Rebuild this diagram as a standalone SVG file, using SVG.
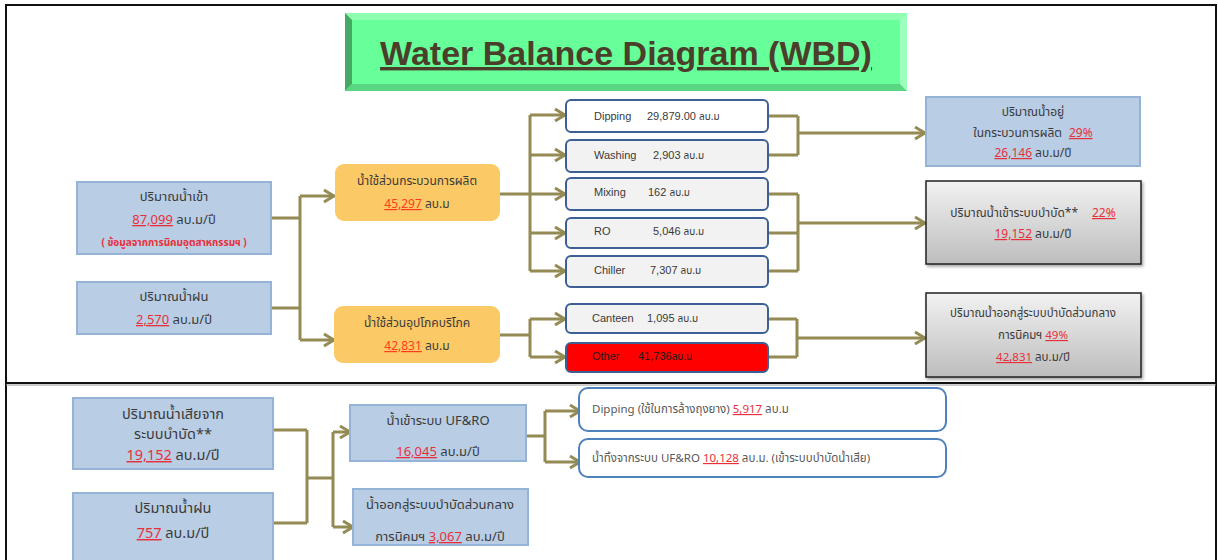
<svg xmlns="http://www.w3.org/2000/svg" width="1218" height="560" viewBox="0 0 1218 560">
  <style>
    text { font-family: "Noto Sans Thai", Tahoma, "Liberation Sans", "Noto Sans", sans-serif; fill: #3a3a3a; }
    .en { font-family: "Liberation Sans", Arial, sans-serif; }
    .th { font-family: "Noto Sans Thai", Tahoma, sans-serif; }
    .num { fill: #e8303a; text-decoration: underline; }
    .blue { fill: #b9cde5; stroke: #95b3d7; stroke-width: 2; }
    .orange { fill: #fcc967; }
    .proc { fill: #f2f2f2; stroke: #3c6096; stroke-width: 2; }
    .gray { fill: url(#grayGrad); stroke: #222; stroke-width: 1.5; filter: url(#shadow); }
    .pill { fill: #ffffff; stroke: #4f81bd; stroke-width: 2; }
    .wire { fill: none; stroke: #948a54; stroke-width: 3; }
    .arrow { fill: none; stroke: #948a54; stroke-width: 3; marker-end: url(#chev); }
  </style>
  <defs>
    <marker id="chev" markerUnits="userSpaceOnUse" viewBox="0 0 14 16" markerWidth="14" markerHeight="16" refX="12" refY="8" orient="auto">
      <path d="M2,2 L12,8 L2,14" fill="none" stroke="#948a54" stroke-width="3"/>
    </marker>
    <linearGradient id="grayGrad" x1="0" y1="0" x2="0" y2="1">
      <stop offset="0" stop-color="#f2f2f2"/>
      <stop offset="1" stop-color="#bdbdbd"/>
    </linearGradient>
    <filter id="shadow" x="-5%" y="-5%" width="115%" height="120%">
      <feDropShadow dx="1.5" dy="2" stdDeviation="1.5" flood-color="#000" flood-opacity="0.35"/>
    </filter>
  </defs>

  <rect width="1218" height="560" fill="#ffffff"/>

  <!-- page frame and section divider -->
  <g id="frame">
    <path d="M6,560 V5 H1216 V560" fill="none" stroke="#111" stroke-width="2"/>
    <line x1="6" y1="383" x2="1216" y2="383" stroke="#111" stroke-width="2"/>
    <line x1="6" y1="385" x2="1216" y2="385" stroke="#9a9a9a" stroke-width="1"/>
  </g>

  <!-- bevelled title plate -->
  <g id="title">
    <rect x="345" y="13" width="562" height="78" fill="#66ff99"/>
    <polygon points="345,13 907,13 900,20 352,20" fill="#8effb1"/>
    <polygon points="345,13 352,20 352,84 345,91" fill="#45a865"/>
    <polygon points="345,91 352,84 900,84 907,91" fill="#58d682"/>
    <polygon points="907,13 907,91 900,84 900,20" fill="#9dffbd"/>
    <text x="626" y="65" text-anchor="middle" class="en" font-size="34" font-weight="bold" style="fill:#4b3f2b" text-decoration="underline">Water Balance Diagram (WBD)</text>
  </g>

  <!-- connectors -->
  <g id="connectors">
    <path class="wire" d="M271,218 H300 M271,308 H300 M300,196 V340"/>
    <path class="arrow" d="M300,196 H334"/>
    <path class="arrow" d="M300,340 H334"/>

    <path class="wire" d="M500,194 H530 M530,115 V271"/>
    <path class="arrow" d="M530,115 H565"/>
    <path class="arrow" d="M530,155 H565"/>
    <path class="arrow" d="M530,194 H565"/>
    <path class="arrow" d="M530,233 H565"/>
    <path class="arrow" d="M530,271 H565"/>

    <path class="wire" d="M500,335 H530 M530,319 V357"/>
    <path class="arrow" d="M530,319 H565"/>
    <path class="arrow" d="M530,357 H565"/>

    <path class="wire" d="M768,116 H798 M768,155 H798 M798,116 V155"/>
    <path class="arrow" d="M798,133 H925"/>
    <path class="wire" d="M768,194 H798 M768,233 H798 M768,271 H798 M798,194 V271"/>
    <path class="arrow" d="M798,223 H925"/>
    <path class="wire" d="M768,319 H797 M768,357 H797 M797,319 V357"/>
    <path class="arrow" d="M797,338 H925"/>

    <path class="wire" d="M273,430 H307 M273,523 H307 M307,430 V523 M307,478 H333 M333,432 V527"/>
    <path class="arrow" d="M333,432 H350"/>
    <path class="arrow" d="M333,527 H353"/>

    <path class="wire" d="M526,436 H545 M545,411 V462"/>
    <path class="arrow" d="M545,411 H580"/>
    <path class="arrow" d="M545,462 H580"/>
  </g>

  <!-- inputs -->
  <g id="inflow">
    <rect class="blue" x="77" y="182" width="194" height="72"/>
    <text x="174" y="201" text-anchor="middle" font-size="13">ปริมาณน้ำเข้า</text>
    <text x="174" y="224" text-anchor="middle" font-size="13"><tspan class="num">87,099</tspan> ลบ.ม/ปี</text>
    <text x="174" y="246" text-anchor="middle" font-size="10" font-weight="bold" style="fill:#e8303a">( ข้อมูลจากการนิคมอุตสาหกรรมฯ )</text>
  </g>
  <g id="rain">
    <rect class="blue" x="77" y="282" width="194" height="52"/>
    <text x="174" y="301" text-anchor="middle" font-size="13">ปริมาณน้ำฝน</text>
    <text x="174" y="324" text-anchor="middle" font-size="13"><tspan class="num">2,570</tspan> ลบ.ม/ปี</text>
  </g>

  <!-- usage split -->
  <g id="process-use">
    <rect class="orange" x="335" y="164" width="165" height="57" rx="9"/>
    <text x="417" y="185" text-anchor="middle" font-size="12">น้ำใช้ส่วนกระบวนการผลิต</text>
    <text x="417" y="208" text-anchor="middle" font-size="12"><tspan class="num" style="fill:#ff3b1f">45,297</tspan> ลบ.ม</text>
  </g>
  <g id="domestic-use">
    <rect class="orange" x="334" y="306" width="166" height="57" rx="9"/>
    <text x="417" y="327" text-anchor="middle" font-size="12">น้ำใช้ส่วนอุปโภคบริโภค</text>
    <text x="417" y="350" text-anchor="middle" font-size="12"><tspan class="num" style="fill:#ff3b1f">42,831</tspan> ลบ.ม</text>
  </g>

  <!-- process consumers -->
  <g id="dipping">
    <rect class="proc" x="566" y="100" width="202" height="32" rx="5" style="fill:#ffffff"/>
    <text x="594" y="120" class="en" font-size="11">Dipping</text>
    <text x="647" y="120" class="en" font-size="11">29,879.00 <tspan class="th" font-size="10">ลบ.ม</tspan></text>
  </g>
  <g id="washing">
    <rect class="proc" x="566" y="140" width="202" height="32" rx="5"/>
    <text x="594" y="159" class="en" font-size="11">Washing</text>
    <text x="653" y="159" class="en" font-size="11">2,903 <tspan class="th" font-size="10">ลบ.ม</tspan></text>
  </g>
  <g id="mixing">
    <rect class="proc" x="566" y="178" width="202" height="32" rx="5"/>
    <text x="594" y="196" class="en" font-size="11">Mixing</text>
    <text x="648" y="196" class="en" font-size="11">162 <tspan class="th" font-size="10">ลบ.ม</tspan></text>
  </g>
  <g id="ro">
    <rect class="proc" x="566" y="218" width="202" height="30" rx="5"/>
    <text x="594" y="235" class="en" font-size="11">RO</text>
    <text x="653" y="235" class="en" font-size="11">5,046 <tspan class="th" font-size="10">ลบ.ม</tspan></text>
  </g>
  <g id="chiller">
    <rect class="proc" x="566" y="256" width="202" height="31" rx="5"/>
    <text x="594" y="274" class="en" font-size="11">Chiller</text>
    <text x="650" y="274" class="en" font-size="11">7,307 <tspan class="th" font-size="10">ลบ.ม</tspan></text>
  </g>
  <g id="canteen">
    <rect class="proc" x="566" y="304" width="202" height="29" rx="5"/>
    <text x="592" y="322" class="en" font-size="11">Canteen</text>
    <text x="647" y="322" class="en" font-size="11">1,095 <tspan class="th" font-size="10">ลบ.ม</tspan></text>
  </g>
  <g id="other">
    <rect class="proc" x="566" y="343" width="202" height="29" rx="5" style="fill:#ff0000"/>
    <text x="592" y="360" class="en" font-size="11" style="fill:#1a1a1a">Other</text>
    <text x="638" y="360" class="en" font-size="11" style="fill:#1a1a1a">41,736<tspan class="th" font-size="10">ลบ.ม</tspan></text>
  </g>

  <!-- outputs -->
  <g id="retained">
    <rect class="blue" x="926" y="97" width="214" height="69"/>
    <text x="1033" y="116" text-anchor="middle" font-size="12">ปริมาณน้ำอยู่</text>
    <text x="1033" y="137" text-anchor="middle" font-size="12">ในกระบวนการผลิต<tspan class="num" dx="7">29%</tspan></text>
    <text x="1033" y="157" text-anchor="middle" font-size="12"><tspan class="num">26,146</tspan> ลบ.ม/ปี</text>
  </g>
  <g id="to-treatment">
    <rect class="gray" x="926" y="181" width="215" height="83"/>
    <text x="1033" y="217" text-anchor="middle" font-size="12">ปริมาณน้ำเข้าระบบบำบัด**<tspan class="num" dx="14">22%</tspan></text>
    <text x="1033" y="238" text-anchor="middle" font-size="12"><tspan class="num">19,152</tspan> ลบ.ม/ปี</text>
  </g>
  <g id="to-central">
    <rect class="gray" x="926" y="293" width="215" height="84"/>
    <text x="1033" y="317" text-anchor="middle" font-size="11.5">ปริมาณน้ำออกสู่ระบบบำบัดส่วนกลาง</text>
    <text x="1033" y="339" text-anchor="middle" font-size="11.5">การนิคมฯ <tspan class="num">49%</tspan></text>
    <text x="1033" y="361" text-anchor="middle" font-size="11.5"><tspan class="num">42,831</tspan> ลบ.ม/ปี</text>
  </g>

  <!-- lower section: treated water -->
  <g id="wastewater">
    <rect class="blue" x="73" y="398" width="200" height="71"/>
    <text x="173" y="419" text-anchor="middle" font-size="14.5">ปริมาณน้ำเสียจาก</text>
    <text x="173" y="439" text-anchor="middle" font-size="14.5">ระบบบำบัด**</text>
    <text x="173" y="460" text-anchor="middle" font-size="14.5"><tspan class="num">19,152</tspan> ลบ.ม/ปี</text>
  </g>
  <g id="rain-lower">
    <rect class="blue" x="73" y="493" width="200" height="75"/>
    <text x="173" y="513" text-anchor="middle" font-size="14.5">ปริมาณน้ำฝน</text>
    <text x="173" y="538" text-anchor="middle" font-size="14.5"><tspan class="num">757</tspan> ลบ.ม/ปี</text>
  </g>
  <g id="ufro-in">
    <rect class="blue" x="350" y="405" width="176" height="56"/>
    <text x="438" y="425" text-anchor="middle" font-size="13">น้ำเข้าระบบ UF&amp;RO</text>
    <text x="438" y="456" text-anchor="middle" font-size="13"><tspan class="num">16,045</tspan> ลบ.ม/ปี</text>
  </g>
  <g id="central-out">
    <rect class="blue" x="353" y="489" width="175" height="56"/>
    <text x="440" y="509" text-anchor="middle" font-size="13">น้ำออกสู่ระบบบำบัดส่วนกลาง</text>
    <text x="440" y="541" text-anchor="middle" font-size="13">การนิคมฯ <tspan class="num">3,067</tspan> ลบ.ม/ปี</text>
  </g>
  <g id="dipping-reuse">
    <rect class="pill" x="579" y="388" width="367" height="43" rx="9"/>
    <text x="592" y="413" font-size="11.5" style="fill:#595959">Dipping (ใช้ในการล้างถุงยาง) <tspan class="num">5,917</tspan> ลบ.ม</text>
  </g>
  <g id="ufro-reject">
    <rect class="pill" x="579" y="439" width="367" height="38" rx="9"/>
    <text x="592" y="462" font-size="11.5" style="fill:#595959">น้ำทิ้งจากระบบ UF&amp;RO <tspan class="num">10,128</tspan> ลบ.ม. (เข้าระบบบำบัดน้ำเสีย)</text>
  </g>
</svg>
